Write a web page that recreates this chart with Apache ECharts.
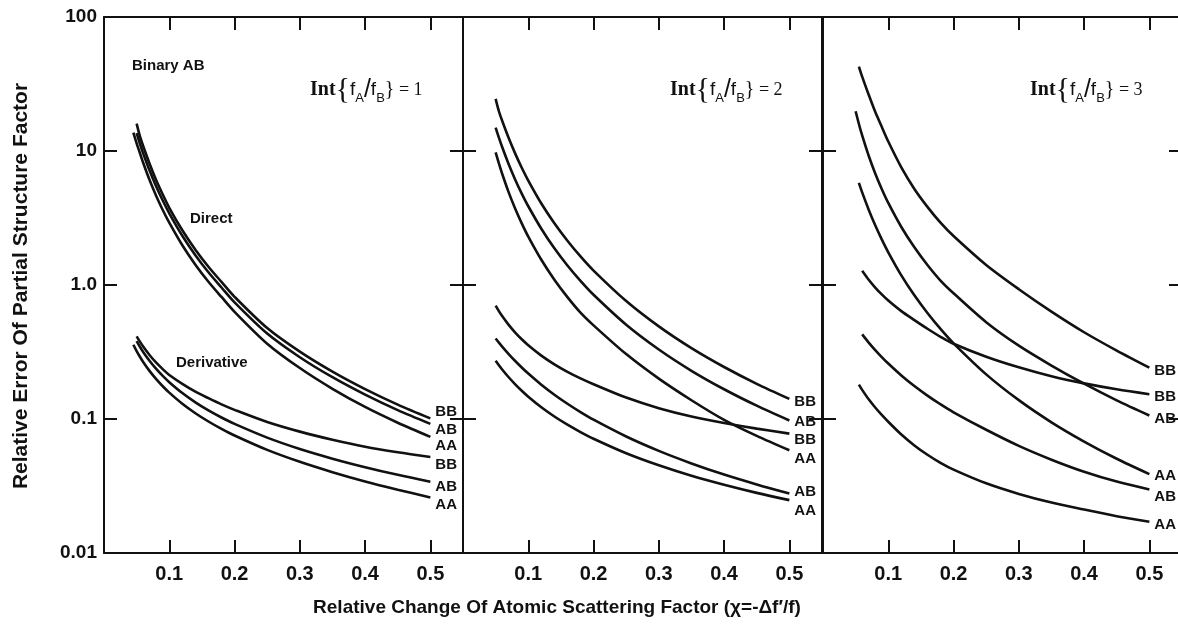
<!DOCTYPE html>
<html><head><meta charset="utf-8">
<script src="https://cdn.jsdelivr.net/npm/echarts@6/dist/echarts.min.js"></script>
<style>html,body{margin:0;padding:0;background:#fff}#c{width:1178px;height:635px}</style>
</head><body><div id="c"></div>
<script>
// x grid of the digitised points (relative change chi); null = curve not drawn there
const X = [0.045,0.05,0.055,0.06,0.07,0.08,0.09,0.10,0.12,0.14,0.16,0.18,0.20,0.25,0.30,0.35,0.40,0.45,0.50];
const xTickLabels = ['0.1','0.2','0.3','0.4','0.5'];
const yTickLabels = ['0.01','0.1','1.0','10','100'];
const panelRatios = ['1','2','3'];
const curveNames = ['BB','AB','AA','BB','AB','AA'];

// Panel 1  Int{fA/fB}=1  (d = direct, r = derivative)
const d1BB = [null,16.0,12.9,10.9,8.0,6.05,4.74,3.77,2.56,1.835,1.368,1.054,0.816,0.477,0.318,0.2255,0.167,0.128,0.101];
const d1AB = [null,13.6,11.36,9.61,7.11,5.43,4.27,3.43,2.33,1.668,1.244,0.958,0.742,0.434,0.289,0.205,0.152,0.1165,0.092];
const d1AA = [13.7,11.4,9.66,8.17,6.04,4.62,3.63,2.92,1.98,1.418,1.057,0.814,0.631,0.365,0.24,0.168,0.123,0.0938,0.0736];
const r1BB = [null,0.414,0.378,0.347,0.299,0.263,0.2355,0.213,0.183,0.160,0.143,0.1286,0.117,0.095,0.0805,0.070,0.0621,0.0565,0.0521];
const r1AB = [null,0.381,0.346,0.3167,0.2708,0.2364,0.2096,0.1882,0.1561,0.1331,0.1159,0.1026,0.0919,0.0726,0.0597,0.0506,0.0437,0.0383,0.034];
const r1AA = [0.358,0.3214,0.2916,0.2667,0.2276,0.1983,0.1755,0.1573,0.13,0.1104,0.0958,0.0844,0.0753,0.0588,0.0479,0.0401,0.0342,0.0297,0.026];
// Panel 2  Int{fA/fB}=2
const d2BB = [null,24.5,19.8,16.8,12.49,9.56,7.5,6.02,4.06,2.89,2.14,1.634,1.281,0.759,0.491,0.338,0.2444,0.1831,0.1413];
const d2AB = [null,14.96,12.58,10.70,7.96,6.11,4.81,3.87,2.63,1.878,1.398,1.073,0.845,0.505,0.330,0.229,0.1667,0.1257,0.0975];
const d2AA = [null,9.75,8.07,6.76,4.91,3.71,2.885,2.297,1.542,1.095,0.812,0.622,0.5,0.305,0.2,0.138,0.0985,0.0748,0.0584];
const r2BB = [null,0.7015,0.6385,0.586,0.5035,0.4416,0.3935,0.355,0.2973,0.256,0.225,0.201,0.1818,0.1445,0.1205,0.1045,0.0935,0.0848,0.0778];
const r2AB = [null,0.399,0.3717,0.3472,0.3053,0.2708,0.2423,0.2182,0.1802,0.1518,0.1299,0.1126,0.0988,0.074,0.0578,0.0466,0.0385,0.0325,0.0278];
const r2AA = [null,0.2722,0.252,0.2343,0.2049,0.1815,0.1625,0.1467,0.1224,0.1044,0.0907,0.0799,0.0712,0.0555,0.0451,0.0377,0.0323,0.0281,0.0248];
// Panel 3  Int{fA/fB}=3
const d3BB = [null,null,42.7,35.9,26.3,19.6,15.16,11.77,7.55,5.21,3.83,2.92,2.32,1.41,0.93,0.633,0.444,0.324,0.2415];
const d3AB = [null,19.8,15.91,13.06,9.21,6.80,5.21,4.10,2.71,1.911,1.411,1.080,0.868,0.528,0.3526,0.2507,0.1835,0.1378,0.1063];
const d3AA = [null,null,5.78,4.91,3.65,2.79,2.19,1.754,1.18,0.837,0.6175,0.470,0.367,0.2153,0.1382,0.0945,0.0679,0.0505,0.0388];
const r3BB = [null,null,null,1.275,1.093,0.9566,0.8504,0.7655,0.6381,0.5471,0.4716,0.4108,0.3641,0.2915,0.243,0.2084,0.1844,0.1666,0.1531];
const r3AB = [null,null,null,0.4277,0.3719,0.3269,0.29,0.2593,0.2114,0.1762,0.1495,0.1288,0.1122,0.0831,0.063,0.0497,0.0404,0.0341,0.0298];
const r3AA = [null,null,0.1806,0.1649,0.1402,0.1219,0.1073,0.0954,0.0766,0.0635,0.0541,0.0471,0.0419,0.0331,0.0276,0.0238,0.0211,0.0188,0.0171];

const panelSeries = [
  [d1BB,d1AB,d1AA,r1BB,r1AB,r1AA],
  [d2BB,d2AB,d2AA,r2BB,r2AB,r2AA],
  [d3BB,d3AB,d3AA,r3BB,r3AB,r3AA]
];

// ---- layout / style (not data) ----
const gridLeft = [104, 463, 823];
const GRID_TOP = 17, GRID_H = 536, GRID_W = 359;
const labelDy = [[-6.6,6,8.7,8,5,7.5],[3,1,8.9,6.5,-1.4,10.5],[3.4,3.7,2.2,3,7.5,3.2]];
const titleLeft = [310, 670, 1030];
const INK = '#111';
const SANS = '"Liberation Sans", Arial, Helvetica, sans-serif';
const SERIF = '"Liberation Serif", "Times New Roman", serif';

const grids = [], xAxes = [], yAxes = [], series = [];
gridLeft.forEach((left, p) => {
  grids.push({left: left, top: GRID_TOP, width: GRID_W, height: GRID_H, outerBoundsMode: 'none', containLabel: false});
  const axLine = {show: true, onZero: false, lineStyle: {color: INK, width: 2}};
  const tick = {show: true, inside: true, length: 13, lineStyle: {color: INK, width: 2}};
  ['bottom','top'].forEach(pos => {
    xAxes.push({
      type: 'value', gridIndex: p, position: pos, min: 0, max: 0.55, interval: 0.1,
      axisLine: axLine, axisTick: tick, splitLine: {show: false},
      axisLabel: pos === 'bottom' ? {
        show: true, margin: 11, color: INK, fontFamily: SANS, fontWeight: 'bold', fontSize: 20,
        formatter: v => { const k = Math.round(v * 10); return (Math.abs(v * 10 - k) < 1e-6 && k >= 1 && k <= 5) ? xTickLabels[k - 1] : ''; }
      } : {show: false}
    });
  });
  ['left','right'].forEach(pos => {
    yAxes.push({
      type: 'log', logBase: 10, gridIndex: p, position: pos, min: 0.01, max: 100,
      axisLine: axLine, axisTick: tick, splitLine: {show: false}, minorTick: {show: false},
      axisLabel: (pos === 'left' && p === 0) ? {
        show: true, margin: 7, color: INK, fontFamily: SANS, fontWeight: 'bold', fontSize: 19,
        formatter: v => yTickLabels[Math.round(Math.log10(v)) + 2]
      } : {show: false}
    });
  });
  panelSeries[p].forEach((vals, s) => {
    series.push({
      type: 'line', xAxisIndex: p * 2, yAxisIndex: p * 2, smooth: 0.3,
      showSymbol: false, symbol: 'none', silent: true,
      lineStyle: {color: INK, width: 2.6},
      data: X.map((x, i) => vals[i] == null ? null : [x, vals[i]]).filter(d => d),
      endLabel: {
        show: true, formatter: curveNames[s], distance: 5, offset: [0, labelDy[p][s]],
        color: INK, fontFamily: SANS, fontWeight: 'bold', fontSize: 15
      }
    });
  });
});

const graphics = [
  {type: 'text', x: 132, y: 66, style: {text: 'Binary AB', font: 'bold 15px ' + SANS, fill: INK, verticalAlign: 'middle'}},
  {type: 'text', x: 190, y: 219, style: {text: 'Direct', font: 'bold 15px ' + SANS, fill: INK, verticalAlign: 'middle'}},
  {type: 'text', x: 176, y: 363, style: {text: 'Derivative', font: 'bold 15px ' + SANS, fill: INK, verticalAlign: 'middle'}},
  {type: 'text', x: 21, y: 286, rotation: Math.PI / 2,
   style: {text: 'Relative Error Of Partial Structure Factor', font: 'bold 21px ' + SANS, fill: INK, align: 'center', verticalAlign: 'middle'}},
  {type: 'text', x: 557, y: 608,
   style: {text: 'Relative Change Of Atomic Scattering Factor (\u03C7=-\u0394f\u2032/f)', font: 'bold 19px ' + SANS, fill: INK, align: 'center', verticalAlign: 'middle'}}
];
panelRatios.forEach((r, p) => {
  graphics.push({
    type: 'text', x: titleLeft[p], y: 90,
    style: {
      text: '{i|Int}{b|{}{f|f}{s|A}{sl|/}{f|f}{s|B}{b2|\u007D}{e| = ' + r + '}',
      fill: INK, verticalAlign: 'middle', fontFamily: SERIF, fontSize: 20,
      rich: {
        i: {fontFamily: SERIF, fontWeight: 'bold', fontSize: 20, verticalAlign: 'middle'},
        b: {fontFamily: SERIF, fontSize: 30, verticalAlign: 'middle'},
        b2: {fontFamily: SERIF, fontSize: 30, verticalAlign: 'middle'},
        f: {fontFamily: SANS, fontSize: 19, verticalAlign: 'middle'},
        s: {fontFamily: SANS, fontSize: 13, verticalAlign: 'bottom', lineHeight: 30},
        sl: {fontFamily: SANS, fontSize: 25, verticalAlign: 'middle'},
        e: {fontFamily: SERIF, fontSize: 18, verticalAlign: 'middle'}
      }
    }
  });
});

const chart = echarts.init(document.getElementById('c'), null, {renderer: 'canvas'});
chart.setOption({
  backgroundColor: '#fff',
  animation: false,
  grid: grids, xAxis: xAxes, yAxis: yAxes, series: series,
  graphic: graphics
});
</script></body></html>
